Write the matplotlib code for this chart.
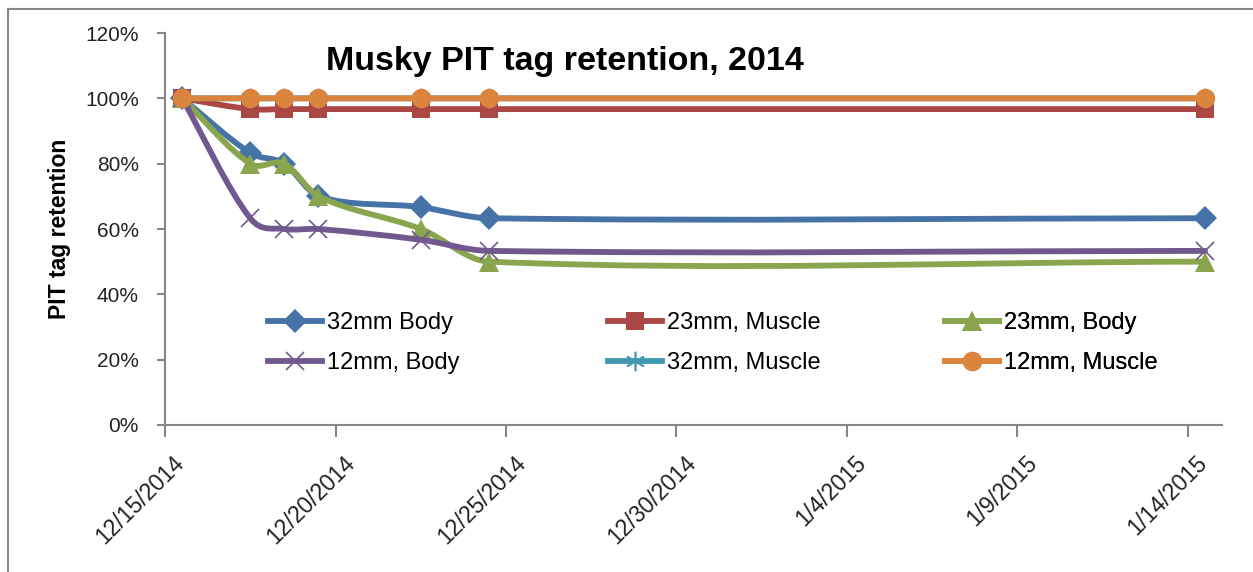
import numpy as np
import matplotlib
matplotlib.use("Agg")
import matplotlib.pyplot as plt
import matplotlib.dates as mdates
from matplotlib.path import Path
from matplotlib.patches import PathPatch
from matplotlib.lines import Line2D
from matplotlib.transforms import ScaledTranslation

# Data
dates      = ["2014-12-15", "2014-12-17", "2014-12-18", "2014-12-19",
              "2014-12-22", "2014-12-24", "2015-01-14"]
body_32    = [1.000, 0.833, 0.800, 0.700, 0.667, 0.633, 0.633]
muscle_23  = [1.000, 0.967, 0.967, 0.967, 0.967, 0.967, 0.967]
body_23    = [1.000, 0.800, 0.800, 0.700, 0.600, 0.500, 0.500]
body_12    = [1.000, 0.633, 0.600, 0.600, 0.567, 0.533, 0.533]
muscle_32  = [1.000, 1.000, 1.000, 1.000, 1.000, 1.000, 1.000]
muscle_12  = [1.000, 1.000, 1.000, 1.000, 1.000, 1.000, 1.000]

series_names = ["32mm Body", "23mm, Muscle", "23mm, Body",
                "12mm, Body", "32mm, Muscle", "12mm, Muscle"]

tick_dates  = ["2014-12-15", "2014-12-20", "2014-12-25", "2014-12-30",
               "2015-01-04", "2015-01-09", "2015-01-14"]
tick_labels = ["12/15/2014", "12/20/2014", "12/25/2014", "12/30/2014",
               "1/4/2015", "1/9/2015", "1/14/2015"]
y_ticks     = [0.0, 0.2, 0.4, 0.6, 0.8, 1.0, 1.2]
y_labels    = ["0%", "20%", "40%", "60%", "80%", "100%", "120%"]

plt.rcParams['font.family'] = ['Liberation Sans', 'DejaVu Sans']

colors  = ["#4572A7", "#AA4643", "#89A54E", "#71588F", "#4198AF", "#DB843D"]
markers = ["D", "s", "^", "x", (6, 2, 0), "o"]
msizes  = [12, 13, 15, 13, 14, 14]


def smooth_path(x, y):
    # cubic Hermite through the points (Excel-like "smoothed line")
    x = np.asarray(x, float)
    y = np.asarray(y, float)
    n = len(x)
    m = np.zeros(n)
    m[0] = (y[1] - y[0]) / (x[1] - x[0])
    m[-1] = (y[-1] - y[-2]) / (x[-1] - x[-2])
    for i in range(1, n - 1):
        m[i] = (y[i + 1] - y[i - 1]) / (x[i + 1] - x[i - 1])
    verts = [(x[0], y[0])]
    codes = [Path.MOVETO]
    for i in range(n - 1):
        h = x[i + 1] - x[i]
        verts += [(x[i] + h / 3, y[i] + m[i] * h / 3),
                  (x[i + 1] - h / 3, y[i + 1] - m[i + 1] * h / 3),
                  (x[i + 1], y[i + 1])]
        codes += [Path.CURVE4] * 3
    return Path(verts, codes)


fig = plt.figure(figsize=(12.53, 5.72), dpi=100)
ax = fig.add_axes([0.1317, 0.257, 0.9753 - 0.1317, 0.9423 - 0.257])

# Excel puts date points in the middle of the day band
xs = mdates.datestr2num(dates) + 0.5
all_series = [body_32, muscle_23, body_23, body_12, muscle_32, muscle_12]

handles = []
for k, ys in enumerate(all_series):
    patch = PathPatch(smooth_path(xs, ys), fill=False, edgecolor=colors[k],
                      lw=4.2, capstyle='round', joinstyle='round', zorder=3 + 2 * k)
    ax.add_patch(patch)
    mew = 1.2 if markers[k] in ("x",) or isinstance(markers[k], tuple) else 0
    ax.plot(xs, ys, linestyle='none', marker=markers[k], ms=msizes[k],
            color=colors[k], mec=colors[k], mew=mew, zorder=4 + 2 * k)
    handles.append(Line2D([], [], color=colors[k], lw=4.2, marker=markers[k],
                          ms=msizes[k], mec=colors[k], mew=mew))

ax.set_xlim(mdates.datestr2num("2014-12-15"), mdates.datestr2num("2015-01-15"))
ax.set_ylim(0, 1.2)

ax.set_yticks(y_ticks)
ax.set_yticklabels(y_labels)
ax.set_xticks(mdates.datestr2num(tick_dates))
ax.set_xticklabels(tick_labels)

for s in ["top", "right"]:
    ax.spines[s].set_visible(False)
for s in ["left", "bottom"]:
    ax.spines[s].set_color("#868686")
    ax.spines[s].set_linewidth(1.5)

ax.tick_params(axis='y', direction='out', length=6, width=1.5, color="#868686",
               pad=13, labelsize=15, labelcolor="#222222")
ax.tick_params(axis='x', direction='out', length=8.5, width=1.5, color="#868686",
               pad=16.5, labelsize=16.5, labelcolor="#222222")

offset = ScaledTranslation(0.16, 0, fig.dpi_scale_trans)
for lab in ax.get_xticklabels():
    lab.set_rotation(45)
    lab.set_rotation_mode('anchor')
    lab.set_ha('right')
    lab.set_va('center')
    lab.set_transform(lab.get_transform() + offset)

ax.set_ylabel("PIT tag retention", fontsize=16.5, fontweight='bold', labelpad=10)

ax.text(0.378, 0.928, "Musky PIT tag retention, 2014", transform=ax.transAxes,
        ha='center', va='center', fontsize=24.5, fontweight='bold')

# legend: three columns, two rows
col_x = [0.0974, 0.419, 0.738]
for c in range(3):
    leg = ax.legend([handles[c], handles[c + 3]],
                    [series_names[c], series_names[c + 3]],
                    loc='center left', bbox_to_anchor=(col_x[c], 0.209),
                    frameon=False, fontsize=17, borderpad=0, borderaxespad=0,
                    handlelength=2.3, handletextpad=0.2, labelspacing=0.75)
    ax.add_artist(leg)

# chart outer border (top and left edges visible)
fig.add_artist(Line2D([8 / 1253, 8 / 1253], [0, 1 - 9 / 572],
                      transform=fig.transFigure, color="#868686", lw=1.5))
fig.add_artist(Line2D([8 / 1253, 1], [1 - 9 / 572, 1 - 9 / 572],
                      transform=fig.transFigure, color="#868686", lw=1.5))

fig.savefig("out.png", dpi=100)
